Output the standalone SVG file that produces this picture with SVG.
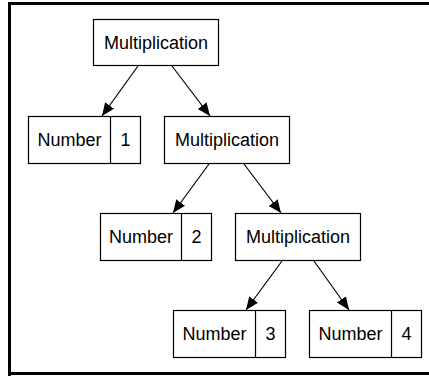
<svg xmlns="http://www.w3.org/2000/svg" width="429" height="376" viewBox="0 0 429 376">
<defs>
<marker id="arr" markerUnits="userSpaceOnUse" markerWidth="14" markerHeight="12" refX="13" refY="5.5" orient="auto">
<path d="M0,0 L13,5.5 L0,11 Z" fill="#000"/>
</marker>
</defs>
<style>
.box{fill:#fff;stroke:#000;stroke-width:1.2}
.div{stroke:#000;stroke-width:1.2}
.t{font-family:"Liberation Sans",Arial,sans-serif;font-size:18px;fill:#000;text-anchor:middle}
.edge{stroke:#000;stroke-width:1.2;fill:none;marker-end:url(#arr)}
</style>
<rect width="429" height="376" fill="#fff"/>
<path d="M9.5,376 V3.5 H429 M9.5,373.5 H429" fill="none" stroke="#000" stroke-width="3"/>
<g id="connectors">
<line class="edge" x1="138" y1="66" x2="102" y2="116"/>
<line class="edge" x1="172" y1="66" x2="210" y2="116"/>
<line class="edge" x1="209" y1="164" x2="173" y2="213"/>
<line class="edge" x1="244" y1="164" x2="281" y2="213"/>
<line class="edge" x1="282" y1="261" x2="246" y2="310"/>
<line class="edge" x1="314" y1="261" x2="349" y2="310"/>
</g>
<g id="mult1">
<rect class="box" x="93.5" y="19.5" width="125" height="46"/>
<text class="t" x="156" y="49">Multiplication</text>
</g>
<g id="num1">
<rect class="box" x="28.5" y="116.5" width="112" height="47"/>
<line class="div" x1="110.5" y1="116.5" x2="110.5" y2="163.5"/>
<text class="t" x="69.5" y="146">Number</text>
<text class="t" x="125.5" y="146">1</text>
</g>
<g id="mult2">
<rect class="box" x="164.5" y="116.5" width="125" height="47"/>
<text class="t" x="227" y="146">Multiplication</text>
</g>
<g id="num2">
<rect class="box" x="100.5" y="213.5" width="111" height="47"/>
<line class="div" x1="181.5" y1="213.5" x2="181.5" y2="260.5"/>
<text class="t" x="141" y="243">Number</text>
<text class="t" x="196.5" y="243">2</text>
</g>
<g id="mult3">
<rect class="box" x="235.5" y="213.5" width="125" height="47"/>
<text class="t" x="298" y="243">Multiplication</text>
</g>
<g id="num3">
<rect class="box" x="173.5" y="310.5" width="112" height="47"/>
<line class="div" x1="255.5" y1="310.5" x2="255.5" y2="357.5"/>
<text class="t" x="214.5" y="340">Number</text>
<text class="t" x="270.5" y="340">3</text>
</g>
<g id="num4">
<rect class="box" x="309.5" y="310.5" width="112" height="47"/>
<line class="div" x1="391.5" y1="310.5" x2="391.5" y2="357.5"/>
<text class="t" x="350.5" y="340">Number</text>
<text class="t" x="406.5" y="340">4</text>
</g>
</svg>
